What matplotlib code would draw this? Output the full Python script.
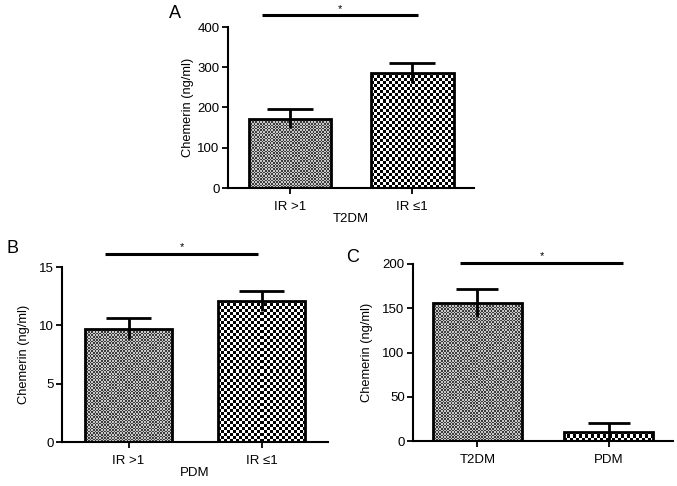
import numpy as np
import matplotlib
matplotlib.use('Agg')
import matplotlib.pyplot as plt
from matplotlib.colors import ListedColormap

plt.rcParams['font.family'] = ['Liberation Sans', 'DejaVu Sans']

# Panel A: T2DM
a_cats = ['IR >1', 'IR ≤1']
a_means = [172, 286]
a_err = [24, 24]
a_yticks = [0, 100, 200, 300, 400]

# Panel B: PDM
b_cats = ['IR >1', 'IR ≤1']
b_means = [9.7, 12.1]
b_err = [0.9, 0.85]
b_yticks = [0, 5, 10, 15]

# Panel C
c_cats = ['T2DM', 'PDM']
c_means = [156, 10.5]
c_err = [16, 9.5]
c_yticks = [0, 50, 100, 150, 200]

W, H = 677, 486
fig = plt.figure(figsize=(W / 100, H / 100), dpi=100)


def px_axes(l, r, top, bottom):
    return fig.add_axes([l / W, (H - bottom) / H, (r - l) / W, (bottom - top) / H])


def checker(ax, rect, cell_px, c1, c2):
    x0, y0 = rect.get_x(), rect.get_y()
    w, h = rect.get_width(), rect.get_height()
    (px0, py0), (px1, py1) = ax.transData.transform([(x0, y0), (x0 + w, y0 + h)])
    nx = max(1, int(round((px1 - px0) / cell_px)))
    ny = max(1, int(round((py1 - py0) / cell_px)))
    arr = np.add.outer(np.arange(ny), np.arange(nx)) % 2
    im = ax.imshow(arr, extent=(x0, x0 + w, y0, y0 + h), cmap=ListedColormap([c1, c2]),
                   interpolation='nearest', aspect='auto', origin='lower', zorder=2)
    im.set_clip_path(rect)


def panel(ax, cats, means, err, yticks, xlim, width, xlabel, letter, letter_xy,
          ylab_x, sig, star_y, cap):
    x = np.arange(len(cats))
    ax.set_xlim(*xlim)
    ax.set_ylim(yticks[0], yticks[-1])
    bars = ax.bar(x, means, width=width, facecolor='none', edgecolor='black',
                  linewidth=2.0, zorder=3)
    styles = [(1.6, '#3c3c3c', '#c8c8c8'), (3.0, '#000000', '#ffffff')]
    for rect, (cell, c1, c2) in zip(bars.patches, styles):
        checker(ax, rect, cell, c1, c2)
    ax.set_xlim(*xlim)
    ax.set_ylim(yticks[0], yticks[-1])
    m = np.array(means)
    e = np.array(err)
    ax.vlines(x, np.maximum(m - e, 0), m + e, colors='black', linewidth=2.0, zorder=4)
    ax.hlines(m + e, x - cap, x + cap, colors='black', linewidth=2.0, zorder=4)

    for s in ['top', 'right']:
        ax.spines[s].set_visible(False)
    for s in ['left', 'bottom']:
        ax.spines[s].set_linewidth(1.5)
    ax.set_yticks(yticks)
    ax.set_xticks(x)
    ax.set_xticklabels(cats)
    ax.tick_params(axis='both', direction='out', length=4, width=1.3, labelsize=9.5, pad=2)
    ax.tick_params(axis='x', pad=5)
    ax.set_ylabel('Chemerin (ng/ml)', fontsize=9.3)
    ax.yaxis.set_label_coords(ylab_x, 0.5)
    if xlabel:
        ax.set_xlabel(xlabel, fontsize=9.5, labelpad=0)
    # significance bar (axes fraction coords)
    x0, x1, yy = sig
    ax.plot([x0, x1], [yy, yy], color='black', linewidth=2.2, transform=ax.transAxes,
            clip_on=False, solid_capstyle='butt')
    ax.text((x0 + x1) / 2, star_y, '*', transform=ax.transAxes, ha='center', va='center',
            fontsize=8)
    fig.text(letter_xy[0] / W, 1 - letter_xy[1] / H, letter, fontsize=13,
             ha='center', va='center')


axA = px_axes(228, 474, 27, 188)
panel(axA, a_cats, a_means, a_err, a_yticks, (-0.508, 1.508), 0.68, 'T2DM', 'A',
      (175, 13), -0.14, ((262 - 228) / 246, (418 - 228) / 246, 1 + 12 / 161), 1 + 18 / 161, 0.19)

axB = px_axes(62, 328, 267, 442)
panel(axB, b_cats, b_means, b_err, b_yticks, (-0.5, 1.5), 0.66, 'PDM', 'B',
      (13, 248), -0.12, ((105 - 62) / 266, (258 - 62) / 266, 1 + 13 / 175), 1 + 20 / 175, 0.17)

axC = px_axes(413, 673, 264, 441)
panel(axC, c_cats, c_means, c_err, c_yticks, (-0.49, 1.49), 0.68, None, 'C',
      (353, 257), -0.155, ((460 - 413) / 260, (623 - 413) / 260, 1 + 1 / 177), 1 + 8 / 177, 0.16)

fig.savefig('out.png', dpi=100)
